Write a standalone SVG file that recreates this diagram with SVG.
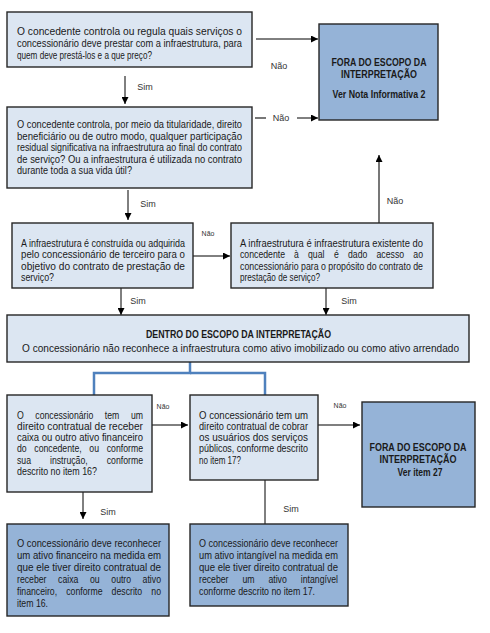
<svg xmlns="http://www.w3.org/2000/svg" width="490" height="633" viewBox="0 0 490 633">
<defs>
<marker id="ah" viewBox="0 0 10 10" refX="10" refY="5" markerWidth="7" markerHeight="7" markerUnits="userSpaceOnUse" orient="auto"><path d="M0,0 L10,5 L0,10 z" fill="#000"/></marker>
<style>
.lt{fill:#dce6f2;stroke:#262626;stroke-width:1.4}
.dk{fill:#95b3d7;stroke:#262626;stroke-width:1.4}
text{font-family:"Liberation Sans",Arial,sans-serif;fill:#1a1a1a}
.t{font-size:10px}
.b{font-size:10.5px;font-weight:bold;text-anchor:middle}
.lb{font-size:9px;fill:#333}
.sm{font-size:7px;fill:#333}
.c{fill:none;stroke:#000;stroke-width:1}
.g{fill:none;stroke:#555;stroke-width:1.6}
.bl{fill:none;stroke:#4f81bd;stroke-width:2.5}
</style>
</defs>
<rect width="490" height="633" fill="#fff"/>

<g id="connectors">
<line class="c" x1="256" y1="39" x2="318" y2="39" marker-end="url(#ah)"/>
<line class="c" x1="125" y1="76" x2="125" y2="104" marker-end="url(#ah)"/>
<line class="g" x1="255" y1="118" x2="266" y2="118"/>
<line class="c" x1="297" y1="118" x2="318" y2="118" marker-end="url(#ah)"/>
<line class="c" x1="128" y1="190" x2="128" y2="220" marker-end="url(#ah)"/>
<line class="g" x1="379" y1="223" x2="379" y2="155" marker-end="url(#ah)"/>
<line class="c" x1="193" y1="256" x2="230" y2="256" marker-end="url(#ah)"/>
<line class="c" x1="121" y1="288" x2="121" y2="315" marker-end="url(#ah)"/>
<line class="c" x1="326" y1="288" x2="326" y2="315" marker-end="url(#ah)"/>
<polyline class="bl" points="190,362 190,373 94,373 94,395"/>
<polyline class="bl" points="190,373 265,373 265,395"/>
<line class="c" x1="147" y1="425" x2="188" y2="425" stroke="#666" marker-end="url(#ah)"/>
<line class="g" x1="318" y1="425" x2="360" y2="425" marker-end="url(#ah)"/>
<line class="c" x1="83" y1="477" x2="83" y2="519" marker-end="url(#ah)"/>
<line class="c" x1="265" y1="480" x2="265" y2="532" marker-end="url(#ah)"/>
<text class="lb" x="279" y="69" text-anchor="middle">Não</text>
<text class="lb" x="145" y="90" text-anchor="middle">Sim</text>
<text class="lb" x="281" y="121" text-anchor="middle">Não</text>
<text class="lb" x="148" y="207" text-anchor="middle">Sim</text>
<text class="lb" x="395" y="204" text-anchor="middle">Não</text>
<text class="sm" x="208" y="236" text-anchor="middle">Não</text>
<text class="lb" x="138" y="304" text-anchor="middle">Sim</text>
<text class="lb" x="349" y="304" text-anchor="middle">Sim</text>
<text class="sm" x="163" y="409" text-anchor="middle">Não</text>
<text class="sm" x="340" y="408" text-anchor="middle">Não</text>
<text class="lb" x="108" y="515" text-anchor="middle">Sim</text>
<text class="lb" x="291" y="512" text-anchor="middle">Sim</text>
</g>

<g id="q1">
<rect class="lt" x="7" y="12" width="245" height="55"/>
<text class="t" x="17" y="35" textLength="225" lengthAdjust="spacingAndGlyphs">O concedente controla ou regula quais serviços o</text>
<text class="t" x="17" y="47" textLength="225" lengthAdjust="spacingAndGlyphs">concessionário deve prestar com a infraestrutura, para</text>
<text class="t" x="17" y="58.5" textLength="135" lengthAdjust="spacingAndGlyphs">quem deve prestá-los e a que preço?</text>
</g>

<g id="fora1">
<rect class="dk" x="319" y="24" width="119" height="96"/>
<text class="b" x="379" y="66" textLength="95" lengthAdjust="spacingAndGlyphs">FORA DO ESCOPO DA</text>
<text class="b" x="379" y="78" textLength="76" lengthAdjust="spacingAndGlyphs">INTERPRETAÇÃO</text>
<text class="b" x="379" y="98" textLength="93" lengthAdjust="spacingAndGlyphs">Ver Nota Informativa 2</text>
</g>

<g id="q2">
<rect class="lt" x="7" y="107" width="245" height="81"/>
<text class="t" x="17" y="128" textLength="225" lengthAdjust="spacingAndGlyphs">O concedente controla, por meio da titularidade, direito</text>
<text class="t" x="17" y="139.5" textLength="225" lengthAdjust="spacingAndGlyphs">beneficiário ou de outro modo, qualquer participação</text>
<text class="t" x="17" y="151" textLength="225" lengthAdjust="spacingAndGlyphs">residual significativa na infraestrutura ao final do contrato</text>
<text class="t" x="17" y="162.5" textLength="225" lengthAdjust="spacingAndGlyphs">de serviço? Ou a infraestrutura é utilizada no contrato</text>
<text class="t" x="17" y="174" textLength="115" lengthAdjust="spacingAndGlyphs">durante toda a sua vida útil?</text>
</g>

<g id="q3">
<rect class="lt" x="12" y="223" width="181" height="65"/>
<text class="t" x="21" y="246.5" textLength="164" lengthAdjust="spacingAndGlyphs">A infraestrutura é construída ou adquirida</text>
<text class="t" x="21" y="258" textLength="164" lengthAdjust="spacingAndGlyphs">pelo concessionário de terceiro para o</text>
<text class="t" x="21" y="269.5" textLength="164" lengthAdjust="spacingAndGlyphs">objetivo do contrato de prestação de</text>
<text class="t" x="21" y="281" textLength="33" lengthAdjust="spacingAndGlyphs">serviço?</text>
</g>

<g id="q4">
<rect class="lt" x="231" y="223" width="202" height="65"/>
<text class="t" x="240" y="246.5" textLength="183" lengthAdjust="spacingAndGlyphs">A infraestrutura é infraestrutura existente do</text>
<text class="t" x="240" y="258" textLength="45" lengthAdjust="spacingAndGlyphs">concedente</text>
<text class="t" x="294" y="258" textLength="4.8" lengthAdjust="spacingAndGlyphs">à</text>
<text class="t" x="308" y="258" textLength="16.4" lengthAdjust="spacingAndGlyphs">qual</text>
<text class="t" x="334" y="258" textLength="4.8" lengthAdjust="spacingAndGlyphs">é</text>
<text class="t" x="348" y="258" textLength="19.3" lengthAdjust="spacingAndGlyphs">dado</text>
<text class="t" x="376.5" y="258" textLength="27.6" lengthAdjust="spacingAndGlyphs">acesso</text>
<text class="t" x="413.3" y="258" textLength="9.7" lengthAdjust="spacingAndGlyphs">ao</text>
<text class="t" x="240" y="269.5" textLength="183" lengthAdjust="spacingAndGlyphs">concessionário para o propósito do contrato de</text>
<text class="t" x="240" y="281" textLength="80" lengthAdjust="spacingAndGlyphs">prestação de serviço?</text>
</g>

<g id="dentro">
<rect class="lt" x="7" y="315" width="462" height="47"/>
<text class="b" x="238.5" y="338" textLength="185" lengthAdjust="spacingAndGlyphs">DENTRO DO ESCOPO DA INTERPRETAÇÃO</text>
<text class="t" x="240.5" y="352" text-anchor="middle" textLength="437" lengthAdjust="spacingAndGlyphs">O concessionário não reconhece a infraestrutura como ativo imobilizado ou como ativo arrendado</text>
</g>

<g id="q5">
<rect class="lt" x="7" y="395" width="145" height="97"/>
<text class="t" x="17" y="418.5" textLength="6.8" lengthAdjust="spacingAndGlyphs">O</text>
<text class="t" x="35.3" y="418.5" textLength="58" lengthAdjust="spacingAndGlyphs">concessionário</text>
<text class="t" x="104.8" y="418.5" textLength="14.5" lengthAdjust="spacingAndGlyphs">tem</text>
<text class="t" x="130.9" y="418.5" textLength="12.1" lengthAdjust="spacingAndGlyphs">um</text>
<text class="t" x="17" y="430" textLength="126" lengthAdjust="spacingAndGlyphs">direito contratual de receber</text>
<text class="t" x="17" y="441" textLength="126" lengthAdjust="spacingAndGlyphs">caixa ou outro ativo financeiro</text>
<text class="t" x="17" y="452" textLength="9.7" lengthAdjust="spacingAndGlyphs">do</text>
<text class="t" x="34.3" y="452" textLength="47.4" lengthAdjust="spacingAndGlyphs">concedente,</text>
<text class="t" x="89.3" y="452" textLength="9.7" lengthAdjust="spacingAndGlyphs">ou</text>
<text class="t" x="106.7" y="452" textLength="36.3" lengthAdjust="spacingAndGlyphs">conforme</text>
<text class="t" x="17" y="463.5" textLength="14" lengthAdjust="spacingAndGlyphs">sua</text>
<text class="t" x="50" y="463.5" textLength="37.7" lengthAdjust="spacingAndGlyphs">instrução,</text>
<text class="t" x="106.7" y="463.5" textLength="36.3" lengthAdjust="spacingAndGlyphs">conforme</text>
<text class="t" x="17" y="474.5" textLength="80" lengthAdjust="spacingAndGlyphs">descrito no item 16?</text>
</g>

<g id="q6">
<rect class="lt" x="190" y="395" width="128" height="85"/>
<text class="t" x="199" y="418.5" textLength="109" lengthAdjust="spacingAndGlyphs">O concessionário tem um</text>
<text class="t" x="199" y="430" textLength="109" lengthAdjust="spacingAndGlyphs">direito contratual de cobrar</text>
<text class="t" x="199" y="441" textLength="109" lengthAdjust="spacingAndGlyphs">os usuários dos serviços</text>
<text class="t" x="199" y="452" textLength="109" lengthAdjust="spacingAndGlyphs">públicos, conforme descrito</text>
<text class="t" x="199" y="463.5" textLength="42" lengthAdjust="spacingAndGlyphs">no item 17?</text>
</g>

<g id="fora2">
<rect class="dk" x="362" y="402" width="113" height="105"/>
<text class="b" x="418" y="451" textLength="97" lengthAdjust="spacingAndGlyphs">FORA DO ESCOPO DA</text>
<text class="b" x="418" y="462.5" textLength="77" lengthAdjust="spacingAndGlyphs">INTERPRETAÇÃO</text>
<text class="b" x="420" y="476" textLength="45" lengthAdjust="spacingAndGlyphs">Ver item 27</text>
</g>

<g id="r1">
<rect class="dk" x="7" y="524" width="162" height="92"/>
<text class="t" x="17" y="547" textLength="144" lengthAdjust="spacingAndGlyphs">O concessionário deve reconhecer</text>
<text class="t" x="17" y="558.5" textLength="144" lengthAdjust="spacingAndGlyphs">um ativo financeiro na medida em</text>
<text class="t" x="17" y="570.5" textLength="144" lengthAdjust="spacingAndGlyphs">que ele tiver  direito contratual de</text>
<text class="t" x="17" y="582.5" textLength="29.5" lengthAdjust="spacingAndGlyphs">receber</text>
<text class="t" x="58.1" y="582.5" textLength="20.3" lengthAdjust="spacingAndGlyphs">caixa</text>
<text class="t" x="90" y="582.5" textLength="9.7" lengthAdjust="spacingAndGlyphs">ou</text>
<text class="t" x="111.3" y="582.5" textLength="19.8" lengthAdjust="spacingAndGlyphs">outro</text>
<text class="t" x="142.6" y="582.5" textLength="18.4" lengthAdjust="spacingAndGlyphs">ativo</text>
<text class="t" x="17" y="595" textLength="40.1" lengthAdjust="spacingAndGlyphs">financeiro,</text>
<text class="t" x="66.2" y="595" textLength="36.3" lengthAdjust="spacingAndGlyphs">conforme</text>
<text class="t" x="111.6" y="595" textLength="30.5" lengthAdjust="spacingAndGlyphs">descrito</text>
<text class="t" x="151.3" y="595" textLength="9.7" lengthAdjust="spacingAndGlyphs">no</text>
<text class="t" x="17" y="607" textLength="31" lengthAdjust="spacingAndGlyphs">item 16.</text>
</g>

<g id="r2">
<rect class="dk" x="190" y="524" width="158" height="82"/>
<text class="t" x="199" y="547" textLength="139" lengthAdjust="spacingAndGlyphs">O concessionário deve reconhecer</text>
<text class="t" x="199" y="558.5" textLength="139" lengthAdjust="spacingAndGlyphs">um ativo intangível na medida em</text>
<text class="t" x="199" y="570.5" textLength="139" lengthAdjust="spacingAndGlyphs">que ele tiver  direito contratual de</text>
<text class="t" x="199" y="582.5" textLength="29.5" lengthAdjust="spacingAndGlyphs">receber</text>
<text class="t" x="242.4" y="582.5" textLength="12.1" lengthAdjust="spacingAndGlyphs">um</text>
<text class="t" x="268.4" y="582.5" textLength="18.4" lengthAdjust="spacingAndGlyphs">ativo</text>
<text class="t" x="300.8" y="582.5" textLength="37.2" lengthAdjust="spacingAndGlyphs">intangível</text>
<text class="t" x="199" y="595" textLength="116" lengthAdjust="spacingAndGlyphs">conforme descrito no item 17.</text>
</g>
</svg>
